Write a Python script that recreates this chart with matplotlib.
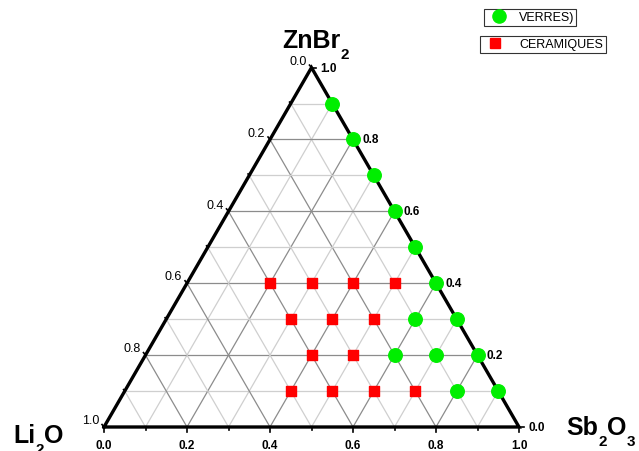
import numpy as np
import matplotlib
matplotlib.use("Agg")
from matplotlib import pyplot as plt
from matplotlib.lines import Line2D

plt.rcParams['font.family'] = ['Liberation Sans', 'DejaVu Sans']

# compositions (fractions of Sb2O3, ZnBr2); Li2O = 1 - sb - zn
verres_sb = [0.1, 0.2, 0.3, 0.4, 0.5, 0.6, 0.7, 0.8, 0.9, 0.6, 0.6, 0.7, 0.8]
verres_zn = [0.9, 0.8, 0.7, 0.6, 0.5, 0.4, 0.3, 0.2, 0.1, 0.3, 0.2, 0.2, 0.1]
ceram_sb = [0.2, 0.3, 0.4, 0.5, 0.3, 0.4, 0.5, 0.4, 0.5, 0.4, 0.5, 0.6, 0.7]
ceram_zn = [0.4, 0.4, 0.4, 0.4, 0.3, 0.3, 0.3, 0.2, 0.2, 0.1, 0.1, 0.1, 0.1]
tick_vals = [0.0, 0.2, 0.4, 0.6, 0.8, 1.0]

H = np.sqrt(3) / 2


def tern(sb, zn):
    sb = np.asarray(sb, float)
    zn = np.asarray(zn, float)
    return sb + zn / 2, zn * H


W, Hpx = 639, 452
fig = plt.figure(figsize=(W / 100, Hpx / 100), dpi=100)
base_px = 415
ax = fig.add_axes([104 / W, 24 / Hpx, base_px / W, base_px * H / Hpx])
ax.set_xlim(0, 1)
ax.set_ylim(0, H)
ax.axis('off')

# grid lines parallel to each side
for i in range(1, 10):
    v = i / 10
    col = '#8c8c8c' if i % 2 == 0 else '#cfcfcf'
    x, y = tern([0, 1 - v], [v, v])
    ax.plot(x, y, color=col, lw=0.9, zorder=1)
    x, y = tern([v, v], [0, 1 - v])
    ax.plot(x, y, color=col, lw=0.9, zorder=1)
    x, y = tern([1 - v, 0], [0, 1 - v])
    ax.plot(x, y, color=col, lw=0.9, zorder=1)

# outline
x, y = tern([0, 1, 0, 0], [0, 0, 1, 0])
ax.plot(x, y, color='black', lw=2.4, zorder=3, solid_joinstyle='miter', clip_on=False)

# tick marks
for i in range(11):
    v = i / 10
    ln = 0.012 if i % 2 == 0 else 0.007
    ax.plot([v, v], [0, -ln], color='black', lw=1.2, clip_on=False, zorder=3)
    x, y = tern(1 - v, v)
    ax.plot([x, x + ln], [y, y], color='black', lw=1.2, clip_on=False, zorder=3)
    x, y = tern(0, 1 - v)
    ax.plot([x, x - ln * 0.4], [y, y + ln * 0.5], color='black', lw=1.2, clip_on=False, zorder=3)

for v in tick_vals:
    ax.text(v, -0.03, f'{v:.1f}', ha='center', va='top', fontsize=8.5,
            fontweight='bold')
    x, y = tern(1 - v, v)
    ax.text(x + 0.022, y, f'{v:.1f}', ha='left', va='center', fontsize=8.5,
            fontweight='bold')
    x, y = tern(0, 1 - v)
    ax.text(x - 0.012, y + 0.002, f'{v:.1f}', ha='right', va='bottom', fontsize=9)

# data points
x, y = tern(verres_sb, verres_zn)
ax.scatter(x, y, s=95, marker='o', color='#00ee00', zorder=4, clip_on=False)
x, y = tern(ceram_sb, ceram_zn)
ax.scatter(x, y, s=62, marker='s', color='#ff0000', zorder=4, clip_on=False)


def chem(px, py, parts):
    # parts: (text, is_subscript) drawn left to right, baseline of first at (px, py)
    first = fig.text(px / W, 1 - py / Hpx, parts[0][0], ha='left', va='baseline',
                     fontsize=18, fontweight='bold')
    prev = first
    for txt, sub in parts[1:]:
        prev = ax.annotate(txt, xy=(1, 0), xycoords=(prev, first),
                           xytext=(0.3, -6.5 if sub else 0), textcoords='offset points',
                           ha='left', va='bottom', fontsize=11 if sub else 18,
                           fontweight='bold', annotation_clip=False)


chem(282, 48, [('ZnBr', False), ('2', True)])
chem(13, 443, [('Li', False), ('2', True), ('O', False)])
chem(566, 435, [('Sb', False), ('2', True), ('O', False), ('3', True)])

# two separate legend boxes
h1 = Line2D([], [], marker='o', ls='', color='#00ee00', markersize=9.5)
h2 = Line2D([], [], marker='s', ls='', color='#ff0000', markersize=7.5)
leg1 = fig.legend([h1], ['VERRES)'], loc='center', bbox_to_anchor=(530 / W, 1 - 18 / Hpx),
                  fontsize=9, frameon=True, fancybox=False, edgecolor='black',
                  borderpad=0.2, handletextpad=0.6, handlelength=2.0, borderaxespad=0)
leg1.get_frame().set_linewidth(0.8)
leg2 = fig.legend([h2], ['CERAMIQUES'], loc='center', bbox_to_anchor=(543 / W, 1 - 45 / Hpx),
                  fontsize=9, frameon=True, fancybox=False, edgecolor='black',
                  borderpad=0.2, handletextpad=1.0, handlelength=2.0, borderaxespad=0)
leg2.get_frame().set_linewidth(0.8)

fig.savefig('out.png', dpi=100)
